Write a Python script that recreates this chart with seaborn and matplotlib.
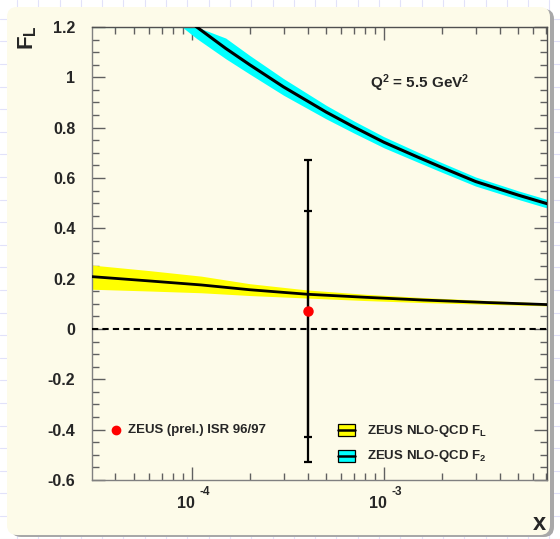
# FL vs x at Q2 = 5.5 GeV2  -  ZEUS ISR point with NLO-QCD bands
import numpy as np
import pandas as pd
import matplotlib
matplotlib.use("Agg")
import matplotlib.pyplot as plt
import seaborn as sns
from matplotlib.patches import FancyBboxPatch, Rectangle
from matplotlib.ticker import FixedLocator, LogLocator, NullFormatter

# -------------- DATA --------------------------------------
f2_x = [9.0e-5, 1.06e-4, 1.5e-4, 2e-4, 3e-4, 5e-4, 7e-4, 1e-3, 1.5e-3, 2e-3, 3e-3, 5e-3, 7.06e-3]
f2_y = [1.245, 1.20, 1.115, 1.05, 0.962, 0.862, 0.802, 0.742, 0.683, 0.642, 0.586, 0.532, 0.498]
f2_err = [0.048, 0.046, 0.041, 0.037, 0.033, 0.027, 0.024, 0.022, 0.020, 0.019, 0.018, 0.017, 0.017]

fl_x = [3.02e-5, 6e-5, 1.12e-4, 2e-4, 4.0e-4, 8e-4, 1.6e-3, 3.5e-3, 7.06e-3]
fl_y = [0.208, 0.191, 0.175, 0.156, 0.138, 0.126, 0.115, 0.105, 0.097]
fl_lo = [0.158, 0.151, 0.144, 0.133, 0.123, 0.113, 0.105, 0.098, 0.092]
fl_hi = [0.254, 0.232, 0.210, 0.180, 0.155, 0.138, 0.125, 0.113, 0.103]

pt_x = [4.0e-4]
pt_y = [0.07]
pt_stat_up, pt_stat_dn = [0.40], [0.50]
pt_tot_up, pt_tot_dn = [0.60], [0.60]

X_MIN, X_MAX = 3.02e-5, 7.06e-3
Y_MIN, Y_MAX = -0.6, 1.2
y_ticks = [-0.6, -0.4, -0.2, 0, 0.2, 0.4, 0.6, 0.8, 1, 1.2]
y_tick_labels = ["-0.6", "-0.4", "-0.2", "0", "0.2", "0.4", "0.6", "0.8", "1", "1.2"]
x_label_ticks = [1e-4, 1e-3]
x_label_exps = ["-4", "-3"]

CREAM = "#fdfbe9"
CYAN = "#00ffff"
YELLOW = "#ffff00"

sns.set_theme(style="ticks")
plt.rcParams["font.family"] = ["Liberation Sans", "DejaVu Sans"]
plt.rcParams["font.weight"] = "bold"
plt.rcParams["mathtext.fontset"] = "custom"
plt.rcParams["mathtext.rm"] = "Liberation Sans:bold"
plt.rcParams["mathtext.it"] = "Liberation Sans:bold"
plt.rcParams["mathtext.bf"] = "Liberation Sans:bold"

fig = plt.figure(figsize=(5.6, 5.39), dpi=100)
fig.patch.set_facecolor("white")

# background: graph paper + rounded cream panel with shadow
bg = fig.add_axes([0, 0, 1, 1])
bg.set_xlim(0, 560)
bg.set_ylim(539, 0)
bg.axis("off")
for gx in np.arange(17, 560, 21.3):
    bg.axvline(gx, color="#e2e2fa", lw=0.8, zorder=0)
for gy in np.arange(18.8, 539, 22.6):
    bg.axhline(gy, color="#e2e2fa", lw=0.8, zorder=0)
bg.add_patch(FancyBboxPatch((11, 9), 543, 528, boxstyle="round,pad=0,rounding_size=10",
                            fc="#a8a8a8", ec="none", zorder=1))
bg.add_patch(FancyBboxPatch((7, 7), 543, 528, boxstyle="round,pad=0,rounding_size=10",
                            fc=CREAM, ec="none", zorder=2))

ax = fig.add_axes([92 / 560, 59 / 539, 455 / 560, 453 / 539])
ax.patch.set_visible(False)
ax.set_xscale("log")

# F2 band + curve
f2_lo = np.minimum(np.array(f2_y) - np.array(f2_err), Y_MAX)
f2_hi = np.minimum(np.array(f2_y) + np.array(f2_err), Y_MAX)
ax.fill_between(f2_x, f2_lo, f2_hi, color=CYAN, lw=0, zorder=2)
ax.hlines(Y_MAX, X_MIN, f2_x[0], color=CYAN, lw=1.5, zorder=2)
df_f2 = pd.DataFrame({"x": f2_x, "y": f2_y})
sns.lineplot(data=df_f2, x="x", y="y", ax=ax, color="black", lw=2.2, zorder=3)

# FL band + curve
ax.fill_between(fl_x, fl_lo, fl_hi, color=YELLOW, lw=0, zorder=2)
df_fl = pd.DataFrame({"x": fl_x, "y": fl_y})
sns.lineplot(data=df_fl, x="x", y="y", ax=ax, color="black", lw=2.0, zorder=3)

ax.axhline(0, color="black", lw=1.5, ls=(0, (3, 2)), zorder=3)

# data point with stat (inner ticks) and total errors
ax.errorbar(pt_x, pt_y, yerr=[pt_tot_dn, pt_tot_up], fmt="none", ecolor="black",
            elinewidth=1.6, capsize=3, capthick=1.6, zorder=4)
ax.errorbar(pt_x, pt_y, yerr=[pt_stat_dn, pt_stat_up], fmt="none", ecolor="black",
            elinewidth=1.6, capsize=3, capthick=1.6, zorder=4)
ax.plot(pt_x, pt_y, "o", color="red", ms=6.5, mec="red", zorder=5, clip_on=False)

ax.set_xlim(X_MIN, X_MAX)
ax.set_ylim(Y_MIN, Y_MAX)
ax.set_xlabel("")
ax.set_ylabel("")

# axes frame and ticks
for side in ["left", "bottom"]:
    ax.spines[side].set_color("#808080")
for side in ["top", "right"]:
    ax.spines[side].set_color("#505050")
for sp in ax.spines.values():
    sp.set_linewidth(1.0)
ax.yaxis.set_major_locator(FixedLocator(y_ticks))
ax.yaxis.set_minor_locator(FixedLocator(np.arange(-0.6, 1.21, 0.05)))
ax.set_yticklabels(y_tick_labels)
ax.xaxis.set_major_locator(LogLocator(base=10, numticks=10))
ax.xaxis.set_minor_locator(LogLocator(base=10, subs=np.arange(2, 10), numticks=20))
ax.xaxis.set_major_formatter(NullFormatter())
ax.xaxis.set_minor_formatter(NullFormatter())
ax.tick_params(which="both", direction="in", top=True, right=True, color="#606060", width=1.0)
ax.tick_params(which="major", length=9.5)
ax.tick_params(which="minor", length=5)
ax.tick_params(axis="y", which="major", labelsize=11.5, pad=12)
for lab in ax.get_yticklabels():
    lab.set_fontweight("bold")

for xt, ex in zip(x_label_ticks, x_label_exps):
    ax.annotate("10", xy=(xt, 0), xycoords=("data", "axes fraction"), xytext=(-6, -23),
                textcoords="offset pixels", ha="center", va="center", fontsize=11.5,
                fontweight="bold")
    ax.annotate(ex, xy=(xt, 0), xycoords=("data", "axes fraction"), xytext=(13, -12),
                textcoords="offset pixels", ha="center", va="center", fontsize=8.5,
                fontweight="bold")

# legend drawn by hand
ax.plot([0.052], [0.110], "o", color="red", ms=6, transform=ax.transAxes, clip_on=False)
ax.text(0.079, 0.110, "ZEUS (prel.) ISR 96/97", transform=ax.transAxes, ha="left",
        va="center", fontsize=9.5, fontweight="bold")
for yb, fc, lab in [(0.097, YELLOW, r"ZEUS NLO-QCD F$_{L}$"),
                    (0.040, CYAN, r"ZEUS NLO-QCD F$_{2}$")]:
    ax.add_patch(Rectangle((0.541, yb), 0.037, 0.027, transform=ax.transAxes, fc=fc,
                           ec="black", lw=0.9, clip_on=False, zorder=6))
    ax.plot([0.541, 0.578], [yb + 0.0135] * 2, color="black", lw=1.8,
            transform=ax.transAxes, clip_on=False, zorder=7)
    ax.text(0.604, yb + 0.012, lab, transform=ax.transAxes, ha="left", va="center",
            fontsize=9.5, fontweight="bold")

ax.text(0.721, 0.877, r"Q$^{2}$ = 5.5 GeV$^{2}$", transform=ax.transAxes, ha="center",
        va="center", fontsize=11, fontweight="bold")

fig.text(28 / 560, 1 - 38 / 539, r"F$_{L}$", rotation=90, ha="center", va="center",
         fontsize=16, fontweight="bold")
fig.text(539 / 560, 1 - 523 / 539, "x", ha="center", va="center", fontsize=17,
         fontweight="bold")

fig.savefig("out.png", dpi=100, facecolor=fig.get_facecolor())
